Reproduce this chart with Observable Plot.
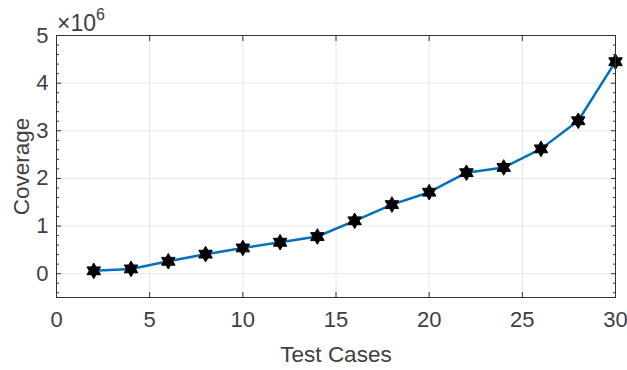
<!DOCTYPE html>
<html><head><meta charset="utf-8">
<script src="https://cdn.jsdelivr.net/npm/d3@7"></script>
<script src="https://cdn.jsdelivr.net/npm/@observablehq/plot@0.6"></script>
<style>body{margin:0;background:#fff}</style>
</head><body><div id="chart"></div>
<script>
// Data (coverage in units of 10^6)
const testCases = [2, 4, 6, 8, 10, 12, 14, 16, 18, 20, 22, 24, 26, 28, 30];
const coverage = [0.06, 0.10, 0.26, 0.41, 0.54, 0.66, 0.78, 1.11, 1.45, 1.71, 2.12, 2.23, 2.62, 3.21, 4.45];
const xTicks = [0, 5, 10, 15, 20, 25, 30];
const yTicks = [0, 1, 2, 3, 4, 5];
const yMinorTicks = [-0.4, -0.2, 0.2, 0.4, 0.6, 0.8, 1.2, 1.4, 1.6, 1.8, 2.2, 2.4, 2.6, 2.8, 3.2, 3.4, 3.6, 3.8, 4.2, 4.4, 4.6, 4.8];
const xLabel = "Test Cases";
const yLabel = "Coverage";
const exponent = "6";

const data = testCases.map((x, i) => ({x, y: coverage[i]}));

const hexagram = {
  draw(ctx, size) {
    const R = Math.sqrt(size / Math.PI);
    const r = R / Math.sqrt(3);
    for (let i = 0; i < 12; i++) {
      const a = -Math.PI / 2 + i * Math.PI / 6;
      const rad = i % 2 ? r : R;
      const px = rad * Math.cos(a), py = rad * Math.sin(a);
      if (i === 0) ctx.moveTo(px, py); else ctx.lineTo(px, py);
    }
    ctx.closePath();
  }
};

const font = "'Liberation Sans', Arial, Helvetica, sans-serif";
const textColor = "#404040";
const axisColor = "#333333";
const gridColor = "#e6e6e6";

const plot = Plot.plot({
  width: 627, height: 370,
  marginLeft: 56, marginRight: 12, marginTop: 35, marginBottom: 73,
  style: {fontFamily: font, fontSize: "22px", color: textColor, background: "white", overflow: "visible"},
  x: {domain: [0, 30]},
  y: {domain: [-0.5, 5]},
  marks: [
    Plot.gridX(xTicks, {stroke: gridColor, strokeOpacity: 1}),
    Plot.gridY(yTicks, {stroke: gridColor, strokeOpacity: 1}),
    Plot.line(data, {x: "x", y: "y", stroke: "#0072BD", strokeWidth: 2.5}),
    Plot.dot(data, {x: "x", y: "y", symbol: hexagram, r: 7.8, fill: "black", stroke: "black", strokeWidth: 1}),
    Plot.frame({stroke: axisColor, strokeWidth: 1}),
    // inward ticks
    Plot.axisX(xTicks, {anchor: "bottom", tickSize: -5, tickFormat: () => "", label: null, stroke: axisColor}),
    Plot.axisX(xTicks, {anchor: "top", tickSize: -5, tickFormat: () => "", label: null, stroke: axisColor}),
    Plot.axisY(yTicks, {anchor: "left", tickSize: -5, tickFormat: () => "", label: null, stroke: axisColor}),
    Plot.axisY(yTicks, {anchor: "right", tickSize: -5, tickFormat: () => "", label: null, stroke: axisColor}),
    Plot.axisY(yMinorTicks, {anchor: "left", tickSize: -3, tickFormat: () => "", label: null, stroke: axisColor}),
    Plot.axisY(yMinorTicks, {anchor: "right", tickSize: -3, tickFormat: () => "", label: null, stroke: axisColor}),
    // tick labels
    Plot.axisX(xTicks, {anchor: "bottom", tickSize: 0, tickPadding: 14, label: null, fill: textColor, fontSize: 22}),
    Plot.axisY(yTicks, {anchor: "left", tickSize: 0, tickPadding: 8, label: null, fill: textColor, fontSize: 22}),
    // axis titles
    Plot.text([xLabel], {frameAnchor: "bottom", dy: 64, fontSize: 22.5, fill: textColor}),
    Plot.text([yLabel], {frameAnchor: "left", textAnchor: "middle", dx: -35, rotate: -90, fontSize: 22.5, fill: textColor})
  ]
});

document.getElementById("chart").appendChild(plot);

// exponent label
const svg = d3.select(plot);
const xs = plot.scale("x"), ys = plot.scale("y");
const t = svg.append("text")
  .attr("x", xs.apply(0) + 1)
  .attr("y", ys.apply(5) - 4)
  .style("fill", textColor)
  .style("font-family", font)
  .style("font-size", "23px")
  .style("text-anchor", "start");
t.append("tspan").text("\u00d710");
t.append("tspan").attr("dy", -11).style("font-size", "16px").text(exponent);
</script>
</body></html>
